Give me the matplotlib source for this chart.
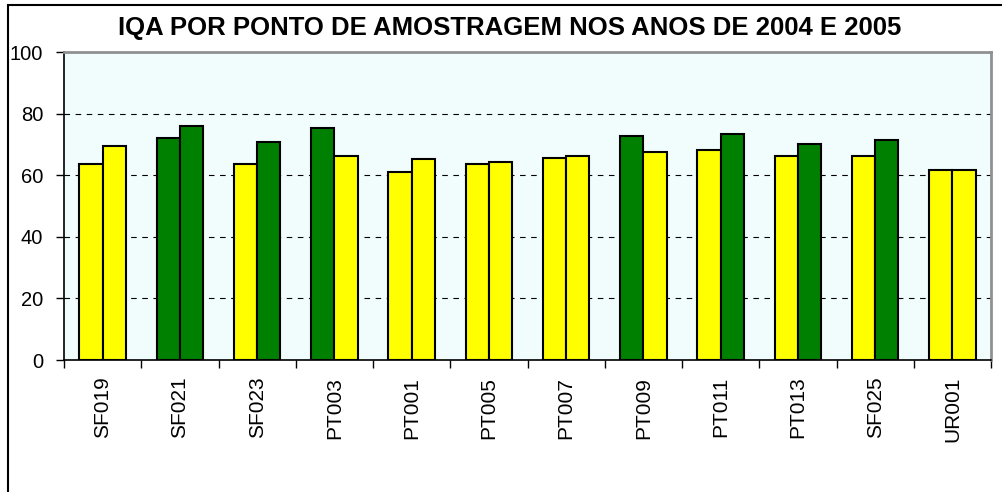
import numpy as np
import matplotlib.pyplot as plt
from matplotlib.patches import Rectangle

pontos = ['SF019', 'SF021', 'SF023', 'PT003', 'PT001', 'PT005',
          'PT007', 'PT009', 'PT011', 'PT013', 'SF025', 'UR001']
iqa_2004 = [63.6, 72.2, 63.6, 75.4, 61.0, 63.6, 65.5, 72.7, 68.1, 66.2, 66.2, 61.6]
iqa_2005 = [69.5, 76.0, 70.7, 66.2, 65.4, 64.3, 66.2, 67.4, 73.3, 70.1, 71.3, 61.6]

amarelo = '#FFFF00'
verde = '#008000'


def cor(v):
    # faixa "bom" acima de 70 em verde, abaixo em amarelo
    return verde if v >= 70 else amarelo


plt.rcParams['font.family'] = ['Liberation Sans', 'DejaVu Sans']

fig = plt.figure(figsize=(10.02, 4.92), dpi=100)
ax = fig.add_axes([64 / 1002, 1 - 360 / 492, (991 - 64) / 1002, (360 - 52) / 492])

x = np.arange(len(pontos))
w = 0.3
ax.bar(x - w / 2, iqa_2004, w, color=[cor(v) for v in iqa_2004],
       edgecolor='black', linewidth=1.5, zorder=3)
ax.bar(x + w / 2, iqa_2005, w, color=[cor(v) for v in iqa_2005],
       edgecolor='black', linewidth=1.5, zorder=3)

ax.set_xlim(-0.5, len(pontos) - 0.5)
ax.set_ylim(0, 100)
ax.set_facecolor('#F1FCFC')
ax.set_yticks([0, 20, 40, 60, 80, 100])
ax.yaxis.grid(True, linestyle=(0, (5, 5)), color='black', linewidth=0.8, zorder=1)

ax.set_xticks(np.arange(len(pontos) + 1) - 0.5, minor=False)
ax.set_xticklabels([])
ax.set_xticks(x, minor=True)
ax.set_xticklabels(pontos, minor=True, rotation=90, fontsize=15, va='top')
ax.tick_params(axis='x', which='minor', length=0, pad=12)
ax.tick_params(axis='x', which='major', length=6, direction='out', width=1)
ax.tick_params(axis='y', length=6, direction='out', width=1, labelsize=14.5, pad=9)

for s in ['top', 'right']:
    ax.spines[s].set_color('#909090')
    ax.spines[s].set_linewidth(2)
for s in ['left', 'bottom']:
    ax.spines[s].set_color('black')
    ax.spines[s].set_linewidth(1.2)

fig.text(510 / 1002, 1 - 28 / 492, 'IQA POR PONTO DE AMOSTRAGEM NOS ANOS DE 2004 E 2005',
         ha='center', va='center', fontsize=18.5, fontweight='bold')

fig.patches.append(Rectangle((8 / 1002, -0.1), 1.2, 1 - 5 / 492 + 0.1,
                             transform=fig.transFigure, fill=False,
                             edgecolor='black', linewidth=1.5))

fig.savefig('out.png', dpi=100)
